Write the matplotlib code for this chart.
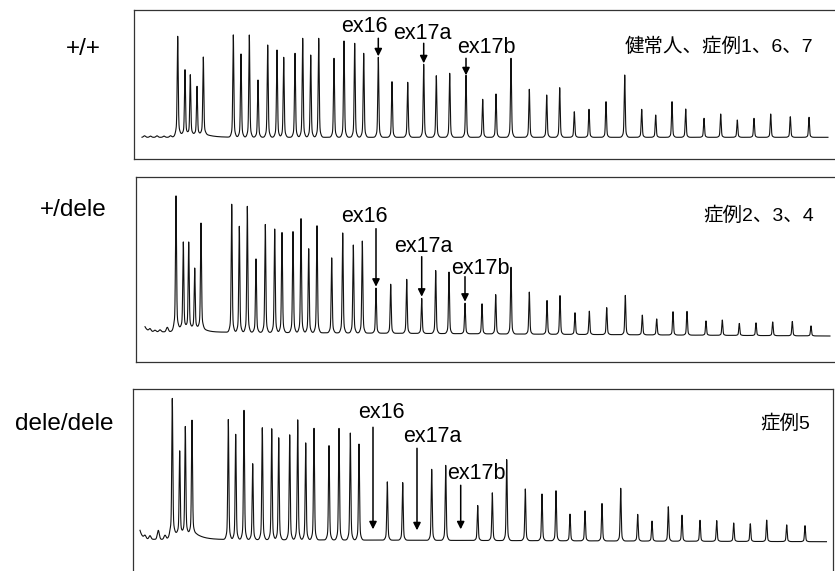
import numpy as np
import matplotlib
matplotlib.use("Agg")
import matplotlib.pyplot as plt

plt.rcParams['font.family'] = ['Liberation Sans', 'Noto Sans CJK JP', 'DejaVu Sans']

W, H = 835, 571

genotypes = ["+/+", "+/dele", "dele/dele"]
samples = ["健常人、症例1、6、7", "症例2、3、4", "症例5"]
exon_names = ["ex16", "ex17a", "ex17b"]

# +/+ : peak positions (migration) and heights
pos_wt = [177.7, 185.0, 190.3, 197.0, 203.3,
          233.3, 241.0, 249.3, 258.0, 267.7, 277.0, 283.7, 295.0, 302.7, 310.7,
          318.7, 334.0, 344.0, 354.7, 363.7,
          378.3, 392.0, 407.7, 423.7, 436.3, 449.7, 466.0, 482.7,
          496.0, 511.0, 529.3, 546.7, 559.7, 574.3, 589.0, 606.0, 624.7, 641.7,
          655.7, 672.0, 685.7, 704.0, 720.7, 737.3, 754.0, 770.7, 790.3, 809.0]
h_wt = [98, 64.6, 59.6, 48, 77.3,
        102.3, 83.3, 102.3, 57.3, 92.3, 87.3, 80, 84, 99, 82.3,
        99, 79, 96.3, 94, 84,
        80, 55.6, 55, 73, 61.6, 64, 62, 38,
        43.3, 79, 48, 42.3, 49.6, 25.6, 28, 35.6, 62.3, 28,
        22.3, 35.6, 28.3, 19, 23.3, 17.3, 19, 23.3, 20.6, 20]

# +/dele
pos_het = [176.0, 183.3, 188.7, 194.7, 201.0,
           231.7, 239.3, 247.3, 256.0, 265.3, 274.7, 282.0, 293.0, 301.0, 308.7,
           317.0, 331.7, 342.7, 353.3, 362.3,
           376.0, 390.7, 406.7, 421.7, 435.7, 449.0, 465.0, 482.0,
           495.7, 511.0, 529.3, 547.0, 560.0, 575.0, 589.3, 606.7, 625.3, 642.3,
           656.7, 673.0, 687.0, 706.0, 722.3, 739.3, 756.0, 772.7, 792.3, 811.0]
h_het = [132, 86, 86, 60, 105,
         128, 106, 126, 73.5, 108, 103.5, 100, 101, 114, 84,
         107, 75, 100, 88, 92,
         45, 49, 54, 35, 63, 61.5, 30.5, 30,
         39.3, 66.7, 42, 33.7, 38.7, 21.7, 23.3, 27, 39.3, 19.7,
         16, 23.3, 23.7, 14.3, 15.3, 12, 12.7, 13.7, 14.3, 10]

# dele/dele (ex16, ex17a, ex17b missing)
pos_hom = [172.3, 179.7, 185.3, 192.0,
           228.3, 235.7, 244.0, 252.7, 262.3, 271.7, 278.7, 289.7, 297.7, 305.7,
           314.0, 329.0, 339.0, 350.3, 359.0,
           387.3, 402.7, 431.7, 445.7, 477.7,
           492.3, 506.7, 525.3, 542.0, 556.0, 570.0, 585.0, 602.0, 620.7, 637.7,
           652.0, 668.3, 682.0, 700.0, 716.7, 733.7, 750.3, 766.7, 786.7, 805.0]
h_hom = [135, 82.6, 107, 113.3,
         120, 105.3, 129.3, 76, 112, 111, 102, 105, 120, 97,
         111.6, 94.3, 111.6, 107, 96,
         58.3, 57.6, 71, 75, 35,
         47.7, 81, 51.7, 46.7, 50, 26.7, 30, 37.4, 52.7, 26.7,
         20, 34.4, 26, 21, 20.7, 18.4, 17.7, 21.4, 16.7, 16]

# small noise peaks at the start of each run
noise_wt = [(144.5, 1.5), (150.5, 1.2), (157.0, 1.5), (164.0, 1.2), (170.5, 1.5)]
noise_het = [(150.0, 2.5), (155.0, 1.5), (160.0, 2.0), (167.3, 4.5)]
noise_hom = [(145.0, 3.0), (150.0, 3.5), (158.3, 9.0), (165.0, 4.0)]

# primer-peak hump: start, end, level, tail length
hump_wt = (176.0, 206.0, 3.0, 8.0)
hump_het = (174.0, 203.0, 4.0, 5.0)
hump_hom = (170.0, 196.0, 6.0, 8.0)

# run start / end, start offset and baseline drift
run_wt = (142.0, 828.0, 0.0, 0.0)
run_het = (145.0, 830.0, 5.0, -4.3)
run_hom = (140.0, 826.5, 9.0, -2.4)

# exon peak positions the arrows point at
ex_pos_wt = [378.3, 423.7, 466.0]
ex_pos_het = [376.0, 421.7, 465.0]
ex_pos_hom = [373.0, 417.0, 460.7]


def trace(pos, h, noise, hump, run):
    x0, x1, s0, drift = run
    x = np.arange(x0, x1, 0.05)
    y = s0 * np.exp(-(x - x0) / 2.5) + drift * (x - x0) / (x1 - x0)
    for p, a in zip(pos, h):
        y += a * (0.9 * np.exp(-0.5 * ((x - p) / 0.5) ** 2)
                  + 0.1 * np.exp(-0.5 * ((x - p) / 1.5) ** 2))
    for p, a in noise:
        y += a * np.exp(-0.5 * ((x - p) / 1.0) ** 2)
    a0, a1, lvl, tail = hump
    hump_y = np.where(x < a0, lvl * np.exp((x - a0) / 1.5),
                      np.where(x <= a1, lvl, lvl * np.exp(-(x - a1) / tail)))
    return x, y + hump_y


# frames in pixels: left, top, right, bottom, baseline
panels = [
    dict(frame=(134, 10, 840, 159, 137.3), data=(pos_wt, h_wt, noise_wt, hump_wt, run_wt),
         ex=ex_pos_wt, tips=[81, 74, 62], tails=[99, 94, 79],
         lab=[(364, 111), (422, 104), (486, 90)], sample=(813, 91)),
    dict(frame=(135.7, 177.3, 840, 362.3, 331.7), data=(pos_het, h_het, noise_het, hump_het, run_het),
         ex=ex_pos_het, tips=[45, 35, 30], tails=[103, 75, 55],
         lab=[(364, 115), (423, 85), (480, 63)], sample=(814, 116)),
    dict(frame=(132.7, 389, 833, 610, 539.3), data=(pos_hom, h_hom, noise_hom, hump_hom, run_hom),
         ex=ex_pos_hom, tips=[10, 9, 10], tails=[112, 91, 54],
         lab=[(381, 127), (432, 103), (476, 66)], sample=(810, 116)),
]
geno_xy = [(83, 49), (73, 210), (64, 424)]

fig = plt.figure(figsize=(W / 100, H / 100), dpi=100)

for i, pn in enumerate(panels):
    l, t, r, b, base = pn['frame']
    ax = fig.add_axes([l / W, 1 - b / H, (r - l) / W, (b - t) / H])
    x, y = trace(*pn['data'])
    ax.plot(x, y, color='#111111', lw=0.8)
    ax.set_xlim(l, r)
    ax.set_ylim(-(b - base), base - t)
    ax.set_xticks([])
    ax.set_yticks([])
    for s in ax.spines.values():
        s.set_color('#333333')
        s.set_linewidth(0.9)
    for name, px, tip, tail, (tx, ty) in zip(exon_names, pn['ex'], pn['tips'],
                                              pn['tails'], pn['lab']):
        ax.annotate('', xy=(px, tip), xytext=(px, tail),
                    arrowprops=dict(arrowstyle='-|>', color='black', lw=1.1,
                                    mutation_scale=11, shrinkA=0, shrinkB=0))
        ax.text(tx, ty, name, ha='center', va='center', fontsize=15.5)
    ax.text(pn['sample'][0], pn['sample'][1], samples[i], ha='right', va='center',
            fontsize=14)
    gx, gy = geno_xy[i]
    fig.text(gx / W, 1 - gy / H, genotypes[i], ha='center', va='center', fontsize=17.5)

fig.savefig('out.png', dpi=100)
